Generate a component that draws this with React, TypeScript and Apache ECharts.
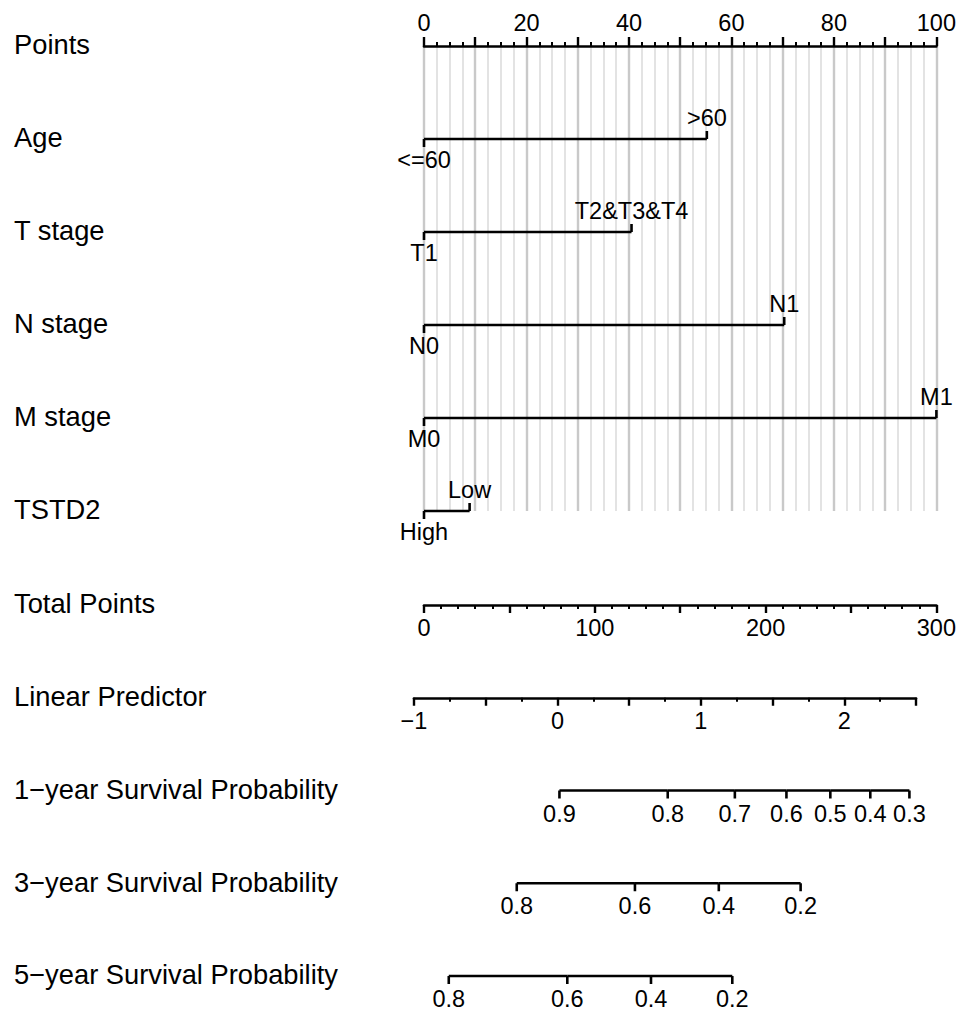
import React, { useEffect, useRef } from "react";
import * as echarts from "echarts";

// ---------- data ----------
const rowLabels = [
  "Points",
  "Age",
  "T stage",
  "N stage",
  "M stage",
  "TSTD2",
  "Total Points",
  "Linear Predictor",
  "1\u2212year Survival Probability",
  "3\u2212year Survival Probability",
  "5\u2212year Survival Probability",
];

const ageLevels = ["<=60", ">60"];
const agePoints = [0, 55.2];
const tLevels = ["T1", "T2&T3&T4"];
const tPoints = [0, 40.5];
const nLevels = ["N0", "N1"];
const nPoints = [0, 70.3];
const mLevels = ["M0", "M1"];
const mPoints = [0, 100];
const tstdLevels = ["High", "Low"];
const tstdPoints = [0, 8.9];

const pointsTickLabels = [0, 20, 40, 60, 80, 100];
const totalTickLabels = [0, 100, 200, 300];
const lpTickLabels = [-1, 0, 1, 2];

// survival scales: probability label and its position on the Total Points scale
const surv1Labels = ["0.9", "0.8", "0.7", "0.6", "0.5", "0.4", "0.3"];
const surv1Total = [79.3, 142.7, 182.0, 212.2, 237.9, 261.3, 284.2];
const surv3Labels = ["0.8", "0.6", "0.4", "0.2"];
const surv3Total = [54.3, 123.5, 172.6, 220.5];
const surv5Labels = ["0.8", "0.6", "0.4", "0.2"];
const surv5Total = [14.5, 83.9, 132.9, 180.5];

// ---------- style / layout ----------
const FONT = "'Liberation Sans', Arial, Helvetica, sans-serif";
const LABEL_SIZE = 27.3;
const TICK_SIZE = 23.5;
const LW = 2.6;

const TOP_TOP = 46;
const TOP_STEP = 93;
const BOT_TOP = 605;
const BOT_STEP = 92.75;

function levelSeries(levels: string[], pts: number[], row: number) {
  const data = levels.map((_, i) => [pts[i], row, i === 0 ? pts[0] : pts[i - 1], i % 2]);
  return {
    type: "custom",
    xAxisIndex: 0,
    yAxisIndex: 0,
    silent: true,
    z: 5,
    renderItem: (params: any, api: any) => {
      const p = api.coord([api.value(0), api.value(1)]);
      const p0 = api.coord([api.value(2), api.value(1)]);
      const dir = api.value(3) === 1 ? -1 : 1;
      const label = levels[params.dataIndex];
      return {
        type: "group",
        children: [
          {
            type: "line",
            shape: { x1: p0[0], y1: p[1], x2: p[0], y2: p[1] },
            style: { stroke: "#000", lineWidth: LW },
          },
          {
            type: "line",
            shape: { x1: p[0], y1: p[1], x2: p[0], y2: p[1] + dir * 8 },
            style: { stroke: "#000", lineWidth: LW },
          },
          {
            type: "text",
            x: p[0],
            y: p[1] + dir * 21,
            style: {
              text: label,
              fill: "#000",
              fontSize: TICK_SIZE,
              fontFamily: FONT,
              align: "center",
              verticalAlign: "middle",
            },
          },
        ],
      };
    },
    data,
  };
}

function survSeries(labels: string[], tot: number[], row: number) {
  const data = labels.map((_, i) => [tot[i], row, i === 0 ? tot[0] : tot[i - 1]]);
  return {
    type: "custom",
    xAxisIndex: 1,
    yAxisIndex: 1,
    silent: true,
    z: 5,
    renderItem: (params: any, api: any) => {
      const p = api.coord([api.value(0), api.value(1)]);
      const p0 = api.coord([api.value(2), api.value(1)]);
      const label = labels[params.dataIndex];
      return {
        type: "group",
        children: [
          {
            type: "line",
            shape: { x1: p0[0], y1: p[1], x2: p[0], y2: p[1] },
            style: { stroke: "#000", lineWidth: LW },
          },
          {
            type: "line",
            shape: { x1: p[0], y1: p[1], x2: p[0], y2: p[1] + 8 },
            style: { stroke: "#000", lineWidth: LW },
          },
          {
            type: "text",
            x: p[0],
            y: p[1] + 23,
            style: {
              text: label,
              fill: "#000",
              fontSize: TICK_SIZE,
              fontFamily: FONT,
              align: "center",
              verticalAlign: "middle",
            },
          },
        ],
      };
    },
    data,
  };
}

export default function App() {
  const ref = useRef<HTMLDivElement>(null);

  useEffect(() => {
    document.body.style.margin = "0";
    if (!ref.current) return;
    const chart = echarts.init(ref.current, null, { renderer: "svg" });

    const rowY = rowLabels.map((_, i) =>
      i < 6 ? TOP_TOP + i * TOP_STEP : BOT_TOP + (i - 6) * BOT_STEP
    );

    const tickLabelStyle = { color: "#000", fontSize: TICK_SIZE, fontFamily: FONT };

    const option: any = {
      animation: false,
      backgroundColor: "#fff",
      grid: [
        { left: 424, top: TOP_TOP, width: 513, height: 5 * TOP_STEP },
        { left: 424, top: BOT_TOP, width: 513, height: 4 * BOT_STEP },
        { left: 414, top: BOT_TOP + BOT_STEP, width: 502, height: 50 },
      ],
      xAxis: [
        {
          gridIndex: 0,
          type: "value",
          position: "top",
          min: 0,
          max: 100,
          interval: 10,
          axisLine: { show: true, onZero: false, lineStyle: { color: "#000", width: LW } },
          axisTick: { show: true, length: 9, lineStyle: { color: "#000", width: 2.4 } },
          minorTick: { show: true, splitNumber: 4, length: 4, lineStyle: { color: "#000", width: 2 } },
          splitLine: { show: true, lineStyle: { color: "#c9c9c9", width: 2.4 } },
          minorSplitLine: { show: true, lineStyle: { color: "#e3e3e3", width: 2 } },
          axisLabel: {
            ...tickLabelStyle,
            margin: 11,
            formatter: (v: number) => (pointsTickLabels.includes(v) ? String(v) : ""),
          },
        },
        {
          gridIndex: 1,
          type: "value",
          position: "top",
          min: 0,
          max: 300,
          interval: 50,
          axisLine: { show: true, onZero: false, lineStyle: { color: "#000", width: LW } },
          axisTick: { show: true, inside: true, length: 8, lineStyle: { color: "#000", width: 2.4 } },
          minorTick: { show: true, splitNumber: 5, length: 4, lineStyle: { color: "#000", width: 2 } },
          splitLine: { show: false },
          axisLabel: {
            ...tickLabelStyle,
            inside: true,
            margin: 11,
            formatter: (v: number) => (totalTickLabels.includes(v) ? String(v) : ""),
          },
        },
        {
          gridIndex: 2,
          type: "value",
          position: "top",
          min: -1,
          max: 2.5,
          interval: 0.5,
          axisLine: { show: true, onZero: false, lineStyle: { color: "#000", width: LW } },
          axisTick: { show: true, inside: true, length: 8, lineStyle: { color: "#000", width: 2.4 } },
          minorTick: { show: true, splitNumber: 2, length: 4, lineStyle: { color: "#000", width: 2 } },
          splitLine: { show: false },
          axisLabel: {
            ...tickLabelStyle,
            inside: true,
            margin: 11,
            formatter: (v: number) =>
              lpTickLabels.includes(v) ? String(v).replace("-", "\u2212") : "",
          },
        },
      ],
      yAxis: [
        { gridIndex: 0, type: "value", min: 0, max: 5, inverse: true, show: false },
        { gridIndex: 1, type: "value", min: 0, max: 4, inverse: true, show: false },
        { gridIndex: 2, type: "value", min: 0, max: 1, show: false },
      ],
      graphic: rowLabels.map((t, i) => ({
        type: "text",
        left: 14,
        top: rowY[i] - LABEL_SIZE / 2 - 1,
        style: { text: t, fill: "#000", fontSize: LABEL_SIZE, fontFamily: FONT },
      })),
      series: [
        levelSeries(ageLevels, agePoints, 1),
        levelSeries(tLevels, tPoints, 2),
        levelSeries(nLevels, nPoints, 3),
        levelSeries(mLevels, mPoints, 4),
        levelSeries(tstdLevels, tstdPoints, 5),
        survSeries(surv1Labels, surv1Total, 2),
        survSeries(surv3Labels, surv3Total, 3),
        survSeries(surv5Labels, surv5Total, 4),
      ],
    };

    chart.setOption(option);
    return () => chart.dispose();
  }, []);

  return <div ref={ref} style={{ width: 959, height: 1013 }} />;
}
